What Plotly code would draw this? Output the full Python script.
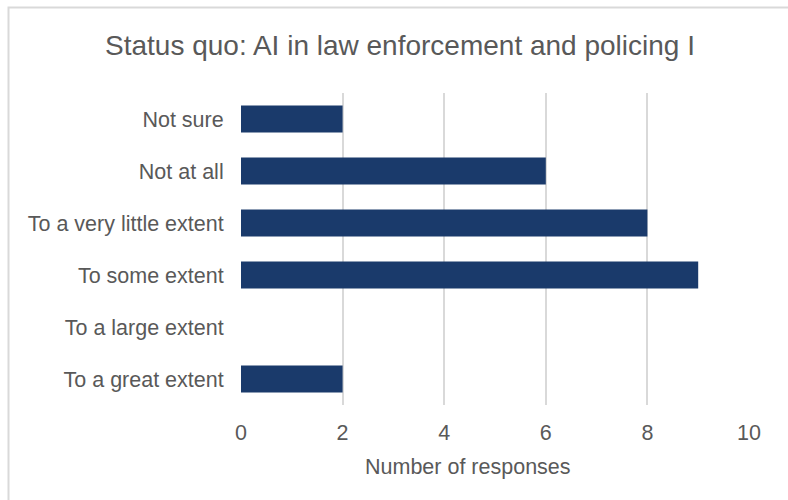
import plotly.graph_objects as go

categories = ["Not sure", "Not at all", "To a very little extent", "To some extent",
              "To a large extent", "To a great extent"]
values = [2, 6, 8, 9, 0, 2]
x_ticks = [0, 2, 4, 6, 8, 10]

W, H = 788, 500
L, R, T, B = 241, 39, 93, 95
pw, ph = W - L - R, H - T - B

fig = go.Figure(go.Bar(
    y=categories, x=values, orientation="h",
    marker=dict(color="#1a3a6b", line=dict(width=0)),
    width=0.52,
))

font = dict(family="Liberation Sans, Arial, sans-serif", color="#595959")
fs = 21.5

fig.update_layout(
    width=W, height=H,
    margin=dict(l=L, r=R, t=T, b=B),
    paper_bgcolor="white", plot_bgcolor="white",
    font=dict(**font, size=fs),
    title=dict(text="Status quo: AI in law enforcement and policing I",
               x=400 / W, xref="container", xanchor="center",
               y=1 - 45 / H, yanchor="middle",
               font=dict(size=28, **font)),
    xaxis=dict(range=[0, 10], tickvals=x_ticks, showgrid=True, gridcolor="#d9d9d9",
               gridwidth=2, zeroline=False, showline=False,
               ticks="outside", ticklen=8, tickcolor="rgba(0,0,0,0)",
               tickfont=dict(size=fs, **font)),
    yaxis=dict(autorange="reversed", showgrid=False, zeroline=False, showline=False,
               ticks="outside", ticklen=12, tickcolor="rgba(0,0,0,0)",
               tickfont=dict(size=fs, **font)),
    showlegend=False,
    annotations=[dict(text="Number of responses", xref="paper", yref="paper",
                      x=(468 - L) / pw, y=-(467 - (H - B)) / ph,
                      xanchor="center", yanchor="middle", showarrow=False,
                      font=dict(size=fs, **font))],
    shapes=[dict(type="rect", xref="paper", yref="paper",
                 x0=(8.5 - L) / pw, x1=2.0, y0=-1.0, y1=(H - B - 7.5) / ph,
                 line=dict(color="#d9d9d9", width=2), fillcolor="rgba(0,0,0,0)",
                 layer="below")],
)

fig.write_html("out.html")
